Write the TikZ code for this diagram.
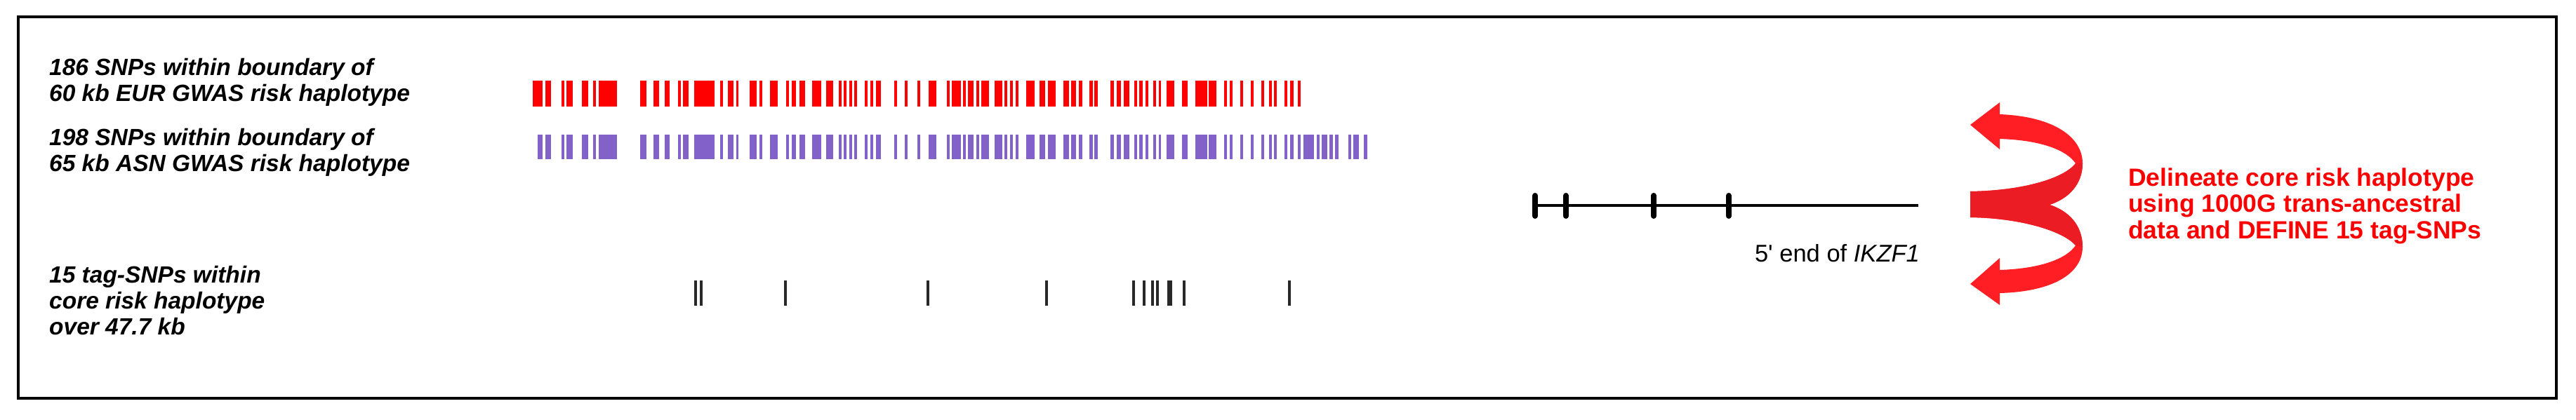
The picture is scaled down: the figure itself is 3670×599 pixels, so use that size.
\documentclass[tikz,border=0pt]{standalone}
\usepackage{fontspec}
\setmainfont{Liberation Sans}
\definecolor{snpred}{RGB}{255,0,0}
\definecolor{snppurple}{RGB}{130,98,200}
\definecolor{tagbar}{RGB}{40,40,40}
\definecolor{arrowred}{RGB}{255,30,35}
\definecolor{arrowdark}{RGB}{236,28,36}
\definecolor{notered}{RGB}{250,0,0}
\def\commonbars{777.2/784.9, 799.7/803.8, 807.3/815.5, 829.3/838.0, 844.6/849.2, 853.3/878.8, 912.4/921.1, 930.8/939.0, 946.6/954.3, 965.5/969.6, 973.2/980.8, 988.5/1018.1, 1025.7/1029.8, 1036.9/1045.1, 1048.7/1052.2, 1067.6/1077.8, 1081.8/1085.9, 1097.1/1108.4, 1119.6/1123.7, 1127.8/1134.4, 1139.0/1146.6, 1157.3/1169.6, 1176.7/1187.4, 1195.1/1199.2, 1202.2/1206.3, 1209.9/1213.5, 1217.0/1221.1, 1232.3/1235.9, 1240.0/1244.1, 1248.2/1255.3, 1273.7/1277.8, 1289.0/1293.1, 1307.3/1311.4, 1322.7/1334.4, 1348.7/1353.3, 1356.3/1368.6, 1371.6/1375.7, 1378.8/1386.9, 1391.0/1395.1, 1398.2/1409.4, 1417.0/1427.8, 1431.3/1435.4, 1439.0/1443.1, 1446.6/1450.7, 1461.9/1473.7, 1480.8/1488.5, 1492.6/1504, 1515/1523, 1526/1533, 1537/1542, 1552/1557, 1559/1564, 1582/1587, 1591/1597, 1601/1609, 1616/1620, 1623/1628, 1632/1636, 1643/1647, 1651/1654, 1662/1673, 1684/1692, 1703/1720, 1722/1733, 1744/1748, 1752/1756, 1767/1771, 1782/1786, 1797/1801, 1808/1812, 1815/1819, 1830/1834, 1838/1843, 1849/1853}
\def\purpleextra{765.5/773.2, 1857/1872, 1876/1880, 1883/1891, 1894/1899, 1902/1907, 1921/1925, 1928/1936, 1943/1948}
\tikzset{
  lbl/.style={font=\fontsize{33.5}{37}\selectfont\bfseries\itshape, align=left, anchor=base west, inner sep=0pt},
  notelbl/.style={font=\fontsize{35.5}{37.5}\selectfont\bfseries, text=notered, align=left, anchor=base west, inner sep=0pt},
  genelbl/.style={font=\fontsize{34.5}{38}\selectfont, anchor=base east, inner sep=0pt},
  frame/.style={line width=4pt, draw=black},
  geneline/.style={line width=4pt, draw=black},
  exontick/.style={line width=8pt, draw=black, line cap=round},
  tagtick/.style={line width=3.5pt, draw=tagbar},
}
\begin{document}
\begin{tikzpicture}[x=1pt, y=-1pt]
\useasboundingbox (0,0) rectangle (3670,599);
\draw[frame] (25.5,24.5) rectangle (3642,568);

% labels (base anchor = baseline of last line)
\node[lbl] (eurlbl) at (70,145) {186 SNPs within boundary of\\60 kb EUR GWAS risk haplotype};
\node[lbl] (asnlbl) at (70,244) {198 SNPs within boundary of\\65 kb ASN GWAS risk haplotype};
\node[lbl] (taglbl) at (70,477) {15 tag-SNPs within\\core risk haplotype\\over 47.7 kb};

% EUR SNP bars
\fill[snpred] (758.9,115) rectangle (773.2,152);
\foreach \a/\b in \commonbars {\fill[snpred] (\a,115) rectangle (\b,152);}
% ASN SNP bars
\foreach \a/\b in \commonbars {\fill[snppurple] (\a,192) rectangle (\b,227);}
\foreach \a/\b in \purpleextra {\fill[snppurple] (\a,192) rectangle (\b,227);}

% tag SNPs
\foreach \x in {991, 999, 1119, 1322, 1491, 1615, 1630, 1642, 1649, 1687, 1837} {\draw[tagtick] (\x,400) -- (\x,436);}
\draw[tagtick, line width=7pt] (1666,400) -- (1666,436);

% gene
\coordinate (g0) at (2185,293);
\coordinate (g1) at (2733,293);
\draw[geneline] (g0) -- (g1);
\foreach \x in {2187, 2231, 2356, 2463} {\draw[exontick] (\x,279) -- (\x,308);}
\node[genelbl] (genename) at (2735,373) {5\textquotesingle{} end of \textit{IKZF1}};

% curved double arrow
\fill[arrowred] (2807,273) .. controls (2880,272) and (2940,255) .. (2957,233)
  .. controls (2945,215) and (2910,200) .. (2849,198) -- (2849,213) -- (2807,178) -- (2849,146) -- (2849,163)
  .. controls (2925,166) and (2967,195) .. (2967,233)
  .. controls (2967,262) and (2948,283) .. (2920,292)
  .. controls (2948,301) and (2967,322) .. (2967,352)
  .. controls (2967,390) and (2925,416) .. (2849,418) -- (2849,435) -- (2807,405) -- (2849,368) -- (2849,385)
  .. controls (2910,383) and (2945,368) .. (2957,350)
  .. controls (2940,330) and (2880,311) .. (2807,310) -- cycle;
\fill[arrowdark] (2957,233) -- (2967,233)
  .. controls (2967,262) and (2948,283) .. (2920,292)
  .. controls (2948,301) and (2967,322) .. (2967,352) -- (2957,350)
  .. controls (2940,330) and (2880,311) .. (2807,310) -- (2807,273)
  .. controls (2880,272) and (2940,255) .. (2957,233) -- cycle;

\node[notelbl] (note) at (3032,340) {Delineate core risk haplotype\\using 1000G trans-ancestral\\data and DEFINE 15 tag-SNPs};
\end{tikzpicture}
\end{document}
